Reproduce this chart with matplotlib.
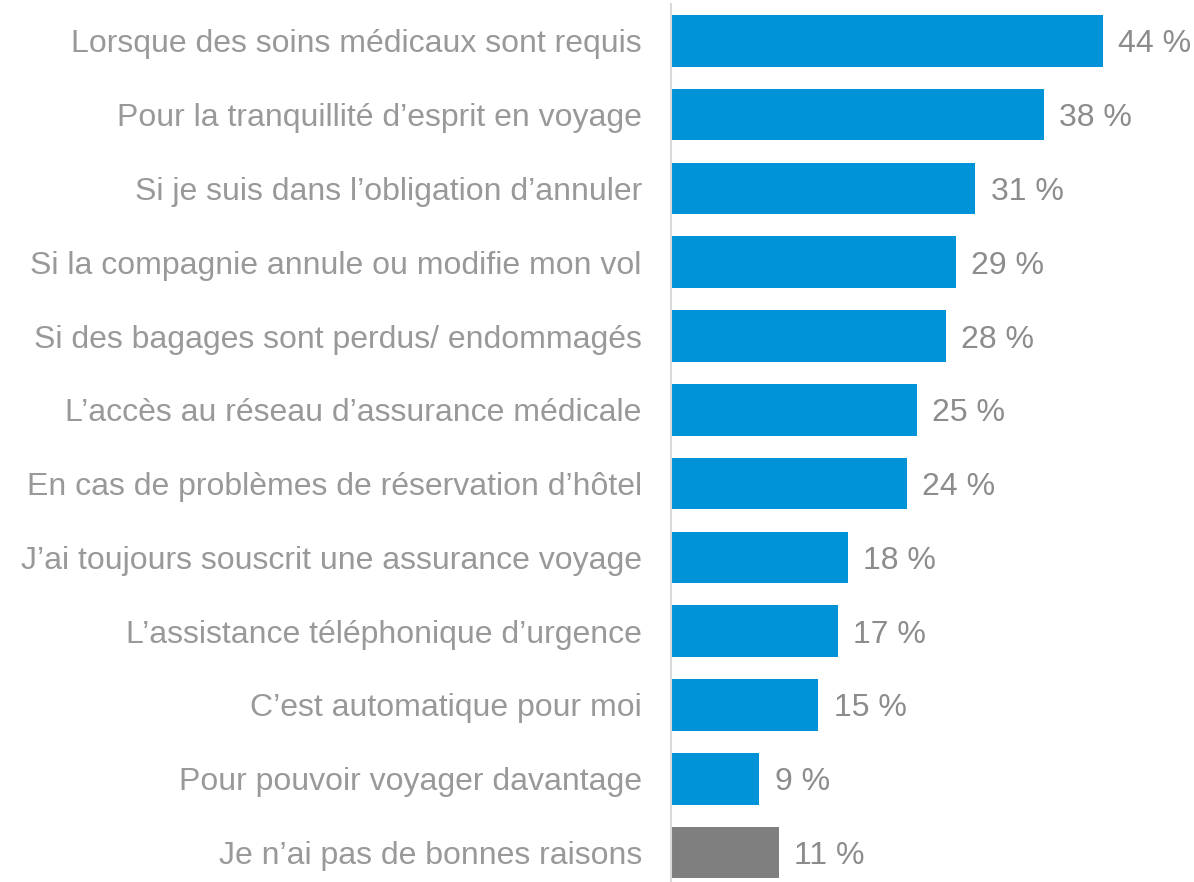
import matplotlib.pyplot as plt

plt.rcParams['font.family'] = ['Liberation Sans', 'DejaVu Sans']

reasons = [
    "Lorsque des soins médicaux sont requis",
    "Pour la tranquillité d’esprit en voyage",
    "Si je suis dans l’obligation d’annuler",
    "Si la compagnie annule ou modifie mon vol",
    "Si des bagages sont perdus/ endommagés",
    "L’accès au réseau d’assurance médicale",
    "En cas de problèmes de réservation d’hôtel",
    "J’ai toujours souscrit une assurance voyage",
    "L’assistance téléphonique d’urgence",
    "C’est automatique pour moi",
    "Pour pouvoir voyager davantage",
    "Je n’ai pas de bonnes raisons",
]
pct = [44, 38, 31, 29, 28, 25, 24, 18, 17, 15, 9, 11]
colors = ["#0093D7"] * 11 + ["#7F7F7F"]

fig = plt.figure(figsize=(11.94, 8.82), dpi=100)
ax = fig.add_axes([671 / 1194, 0, 491 / 1194, 878 / 882])

ypos = list(range(len(reasons)))
ax.barh(ypos, pct, height=0.7, color=colors)

for y, v in zip(ypos, pct):
    ax.annotate(f"{v} %", xy=(v, y), xytext=(11, 0), textcoords="offset points",
                va="center_baseline", ha="left", fontsize=23, color="#8C8C8C")

ax.set_xlim(0, 50)
ax.set_ylim(11.4, -0.5)
ax.set_yticks(ypos)
ax.set_yticklabels(reasons, fontsize=23, color="#999999")
ax.tick_params(axis="y", length=0, pad=21)
ax.set_xticks([])
for s in ["top", "right", "bottom"]:
    ax.spines[s].set_visible(False)
ax.spines["left"].set_color("#D9D9D9")
ax.spines["left"].set_linewidth(1.5)

fig.savefig("out.png", dpi=100)
